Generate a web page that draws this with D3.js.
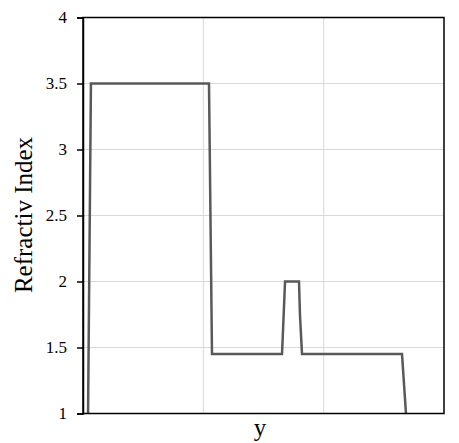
<html>
<head>
<script src="https://d3js.org/d3.v7.min.js"></script>
<style>
    body { margin: 0; background: #fff; }
    text { font-family: "Liberation Serif", "Times New Roman", serif; fill: #000; }
</style>
</head>
<body>
<svg id='the-chart' width=459 height=443></svg>
<script>
    // profile of refractive index along y (x in grid units, 3 divisions)
    var yPos  = [0.042, 0.066, 1.047, 1.072, 1.654, 1.679, 1.795, 1.803, 1.820, 2.651, 2.684];
    var index = [1.0,   3.5,   3.5,   1.45,  1.45,  2.0,   2.0,   1.75,  1.45,  1.45,  1.0];
    var yTicks = [1, 1.5, 2, 2.5, 3, 3.5, 4];
    var xGrid = [1, 2];

    var svg = d3.select('#the-chart');
    var margin = { top: 17.5, left: 83, right: 15, bottom: 29.5 };
    var width = +svg.attr('width') - margin.left - margin.right;
    var height = +svg.attr('height') - margin.top - margin.bottom;
    var g = svg.append('g')
        .attr('transform', 'translate(' + margin.left + ',' + margin.top + ')');

    var x = d3.scaleLinear().domain([0, 3]).range([0, width]);
    var y = d3.scaleLinear().domain([1, 4]).range([height, 0]);

    // grid
    g.selectAll('.hgrid').data(yTicks).enter().append('line')
        .attr('x1', 0).attr('x2', width)
        .attr('y1', function(d) { return y(d); }).attr('y2', function(d) { return y(d); })
        .attr('stroke', '#d9d9d9').attr('stroke-width', 1);
    g.selectAll('.vgrid').data(xGrid).enter().append('line')
        .attr('y1', 0).attr('y2', height)
        .attr('x1', function(d) { return x(d); }).attr('x2', function(d) { return x(d); })
        .attr('stroke', '#d9d9d9').attr('stroke-width', 1);

    // line
    var pts = d3.range(yPos.length).map(function(i) { return [yPos[i], index[i]]; });
    g.append('path')
        .datum(pts)
        .attr('fill', 'none')
        .attr('stroke', '#595959')
        .attr('stroke-width', 2.5)
        .attr('d', d3.line().x(function(d) { return x(d[0]); }).y(function(d) { return y(d[1]); }));

    // frame
    g.append('rect')
        .attr('width', width).attr('height', height)
        .attr('fill', 'none').attr('stroke', '#000').attr('stroke-width', 1.5);

    // y axis
    var yAxis = g.append('g')
        .call(d3.axisLeft(y).tickValues(yTicks).tickSize(6).tickPadding(10).tickFormat(d3.format('')))
        .attr('font-family', 'Liberation Serif')
        .attr('font-size', 17);
    yAxis.select('.domain').attr('stroke', '#000').attr('stroke-width', 1.5);
    yAxis.selectAll('.tick line').attr('stroke', '#000').attr('stroke-width', 1.5);
    yAxis.selectAll('.tick text')
        .attr('font-family', 'Liberation Serif')
        .style('font-family', 'Liberation Serif')
        .style('font-size', '17px')
        .style('fill', '#000');

    // labels
    svg.append('text')
        .attr('transform', 'translate(32,' + 215 + ') rotate(-90)')
        .attr('text-anchor', 'middle')
        .style('font-size', '25px')
        .text('Refractiv Index');
    svg.append('text')
        .attr('x', 260)
        .attr('y', 436)
        .attr('text-anchor', 'middle')
        .style('font-size', '25px')
        .text('y');
</script>
</body>
</html>
